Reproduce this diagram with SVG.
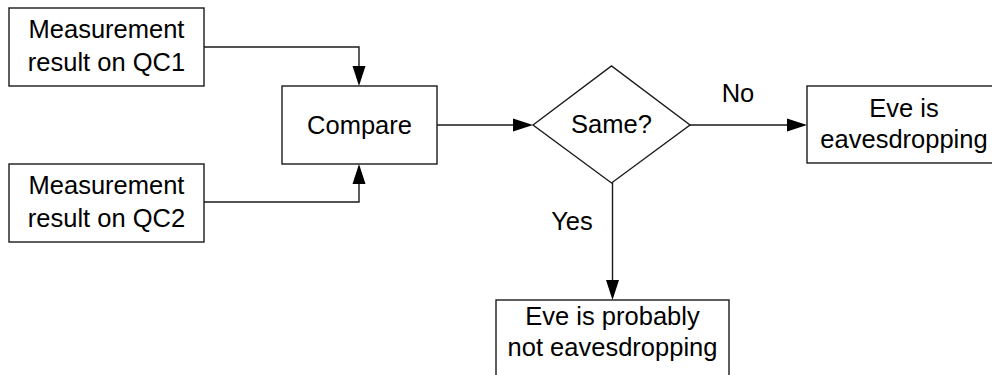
<svg xmlns="http://www.w3.org/2000/svg" width="992" height="375" viewBox="0 0 992 375">
  <style>
    .box { fill: #fff; stroke: #1a1a1a; stroke-width: 1.4; }
    .line { fill: none; stroke: #1a1a1a; stroke-width: 1.4; }
    .head { fill: #000; }
    text { font-family: "Liberation Sans", Arial, sans-serif; font-size: 25.5px; fill: #000; text-anchor: middle; }
  </style>
  <rect width="992" height="375" fill="#fff"/>

  <!-- connectors -->
  <g id="connectors">
    <polyline class="line" points="204,47 359,47 359,72"/>
    <polygon class="head" points="352.5,66 365.5,66 359,86"/>
    <polyline class="line" points="204,202 359,202 359,178"/>
    <polygon class="head" points="352.5,184 365.5,184 359,164"/>
    <line class="line" x1="437" y1="125" x2="520" y2="125"/>
    <polygon class="head" points="513,118.5 513,131.5 533,125"/>
    <line class="line" x1="690" y1="125" x2="794" y2="125"/>
    <polygon class="head" points="787,118.5 787,131.5 807,125"/>
    <line class="line" x1="612.5" y1="182" x2="612.5" y2="286"/>
    <polygon class="head" points="606,280 619,280 612.5,300"/>
    <text x="738" y="102">No</text>
    <text x="572" y="230">Yes</text>
  </g>

  <g id="qc1">
    <rect class="box" x="9" y="8" width="195" height="78"/>
    <text x="106.5" y="38">Measurement</text>
    <text x="106.5" y="71">result on QC1</text>
  </g>

  <g id="qc2">
    <rect class="box" x="9" y="164" width="195" height="78"/>
    <text x="106.5" y="194">Measurement</text>
    <text x="106.5" y="227">result on QC2</text>
  </g>

  <g id="compare">
    <rect class="box" x="282" y="86" width="155" height="78"/>
    <text x="359.5" y="134">Compare</text>
  </g>

  <g id="same">
    <polygon class="box" points="533,125 611.5,66 690,125 611.5,183"/>
    <text x="611.5" y="133">Same?</text>
  </g>

  <g id="eavesdropping">
    <rect class="box" x="807" y="86" width="196" height="77"/>
    <text x="904" y="117">Eve is</text>
    <text x="904" y="148">eavesdropping</text>
  </g>

  <g id="not-eavesdropping">
    <rect class="box" x="496" y="300" width="233" height="90"/>
    <text x="612.5" y="325">Eve is probably</text>
    <text x="612.5" y="356">not eavesdropping</text>
  </g>
</svg>
